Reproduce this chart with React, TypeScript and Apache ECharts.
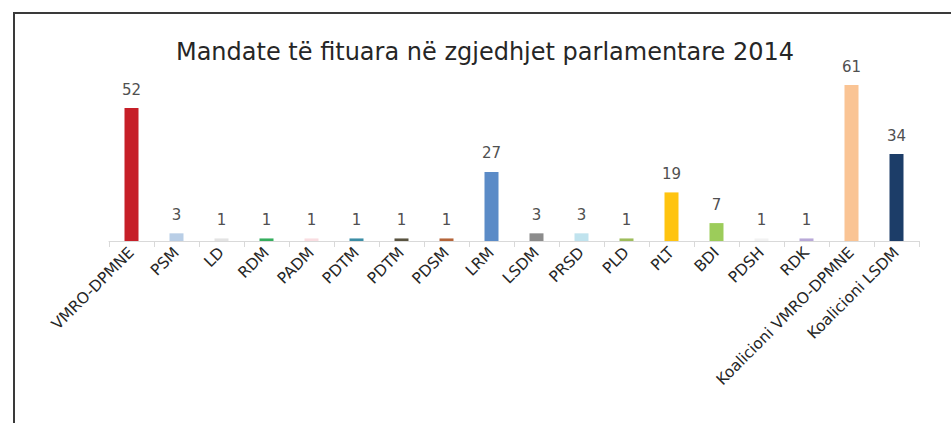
import React, { useEffect, useRef } from "react";
import * as echarts from "echarts";

const titleText = "Mandate të fituara në zgjedhjet parlamentare 2014";
const categories = [
  "VMRO-DPMNE", "PSM", "LD", "RDM", "PADM", "PDTM", "PDTM", "PDSM", "LRM",
  "LSDM", "PRSD", "PLD", "PLT", "BDI", "PDSH", "RDK", "Koalicioni VMRO-DPMNE", "Koalicioni LSDM",
];
const seats = [52, 3, 1, 1, 1, 1, 1, 1, 27, 3, 3, 1, 19, 7, 1, 1, 61, 34];
const barColors = [
  "#C61F28", "#B9CEE6", "#E3E3E3", "#35AE5E", "#F9DDE1", "#3C8EA6", "#595340", "#B5653A", "#5B8BC7",
  "#8C8C8C", "#C0E3EE", "#9EBD5C", "#FFC410", "#9CCC5A", "#F2F2F2", "#B9A9D8", "#FAC494", "#1C3D68",
];

export default function App() {
  const ref = useRef<HTMLDivElement>(null);
  useEffect(() => {
    document.body.style.margin = "0";
    const chart = echarts.init(ref.current!, null, { renderer: "svg" });
    chart.setOption({
      animation: false,
      backgroundColor: "#ffffff",
      textStyle: { fontFamily: "DejaVu Sans" },
      title: {
        text: titleText,
        left: 480,
        textAlign: "center",
        top: 35,
        textStyle: { fontFamily: "DejaVu Sans", fontSize: 24, fontWeight: "normal", color: "#262626" },
      },
      graphic: [
        { type: "line", shape: { x1: 13, y1: 13, x2: 951, y2: 13 }, style: { stroke: "#3a3a3a", lineWidth: 2 } },
        { type: "line", shape: { x1: 14, y1: 12, x2: 14, y2: 423 }, style: { stroke: "#3a3a3a", lineWidth: 2 } },
      ],
      grid: { left: 109, right: 951 - 919, top: 62, bottom: 423 - 241, containLabel: false },
      xAxis: {
        type: "category",
        data: categories,
        axisLine: { lineStyle: { color: "#D9D9D9", width: 1 } },
        axisTick: { show: true, length: 6, lineStyle: { color: "#D9D9D9" } },
        axisLabel: {
          rotate: 45,
          interval: 0,
          fontSize: 15.5,
          color: "#262626",
          fontFamily: "DejaVu Sans",
          margin: 9,
        },
      },
      yAxis: {
        type: "value",
        min: 0,
        max: 70,
        show: false,
        splitLine: { show: false },
      },
      series: [
        {
          type: "bar",
          barWidth: 14,
          data: seats.map((v, i) => ({ value: v, itemStyle: { color: barColors[i] } })),
          label: {
            show: true,
            position: "top",
            distance: 11,
            fontSize: 15,
            color: "#505050",
            fontFamily: "DejaVu Sans",
          },
        },
      ],
    });
    return () => chart.dispose();
  }, []);
  return <div ref={ref} style={{ width: 951, height: 423 }} />;
}
